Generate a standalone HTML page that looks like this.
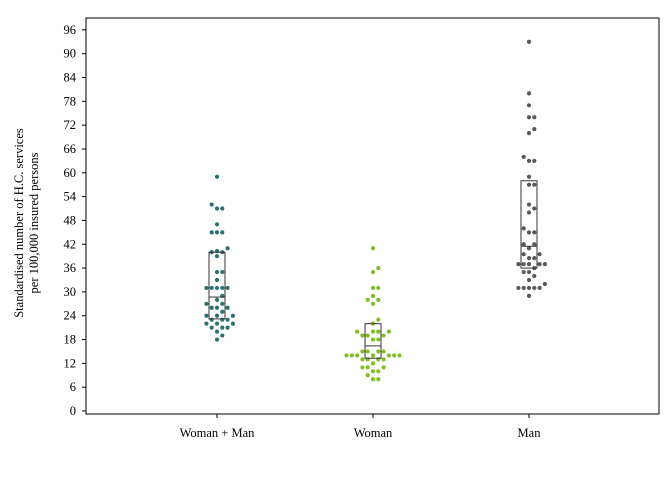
<!DOCTYPE html>
<html><head><meta charset="utf-8"><style>
body{margin:0;background:#fff}
svg text{font-family:"Liberation Serif",serif;font-size:12.5px;fill:#000}
</style></head><body>
<svg width="672" height="480">
<g id="g"></g>
</svg>
<script>
const categories=["Woman + Man","Woman","Man"];
const womanMan=[59,52,51,51,47,45,45,45,41,40.3,40,40,39,35,35,33,31,31,31,31,31,29,28,27,27,26,26,26,25,24,24,24,23,23,23,22,22,22,21,21,21,20,19,18];
const woman=[41,36,35,31,31,29,28,28,27,23,22,20,20,20,20,19,19,19,18,18,15,15,15,15,14,14,14,14,14,14,14,13,13,13,13,12,11,11,11,10,10,9,8,8];
const man=[93,80,77,74,74,71,70,64,63,63,59,57,57,52,51,50,46,45,45,42,42,41,39.5,39.5,38.5,38.5,37,37,37,37,37,36,35,35,34,33,32,31,31,31,31,31,29];
const boxQ1=[23.2,13.3,36];
const boxMed=[28.7,16.4,41.5];
const boxQ3=[40,22,58];
const yTicks=[0,6,12,18,24,30,36,42,48,54,60,66,72,78,84,90,96];
const colors=["#2a7272","#80bf22","#585858"];
const series=[womanMan,woman,man];
const NS="http://www.w3.org/2000/svg";
const g=document.getElementById('g');
const y=v=>411-v*3.97;
const xc=[217,373,529];
function mk(t,a,p){const e=document.createElementNS(NS,t);for(const k in a)e.setAttribute(k,a[k]);(p||g).appendChild(e);return e;}
const fr=mk('rect',{x:86,y:18,width:573,height:396,fill:'none',stroke:'#000','stroke-width':1});

yTicks.forEach(t=>{
 const l=mk('line',{x1:82,x2:86,y1:y(t),y2:y(t),stroke:'#000'});
 
 const tx=mk('text',{x:76,y:y(t)+4,'text-anchor':'end'});tx.textContent=t;
 
});
categories.forEach((c,i)=>{
 const l=mk('line',{x1:xc[i],x2:xc[i],y1:414,y2:418,stroke:'#000'});
 
 const tx=mk('text',{x:xc[i],y:437,'text-anchor':'middle'});tx.textContent=c;
 
});
const yt=mk('text',{transform:'translate(23,223) rotate(-90)','text-anchor':'middle'});

const t1=mk('tspan',{x:0,y:0},yt);t1.textContent='Standardised number of H.C. services';
const t2=mk('tspan',{x:0,y:15},yt);t2.textContent='per 100,000 insured persons';
series.forEach((vals,i)=>{
 const placed=[];
 const sorted=vals.slice().sort((a,b)=>a-b);
 sorted.forEach(v=>{
  const py=y(v);let off=0;
  for(let k=0;k<40;k++){
   const cand=k===0?0:(k%2?1:-1)*Math.ceil(k/2)*5.3;
   if(placed.every(p=>Math.hypot(p[0]-cand,p[1]-py)>=4.8)){off=cand;break;}
  }
  placed.push([off,py]);
  const c=mk('circle',{cx:xc[i]+off,cy:py,r:2.1,fill:colors[i]});
  
 });
 const b=mk('rect',{x:xc[i]-8,y:y(boxQ3[i]),width:16,height:y(boxQ1[i])-y(boxQ3[i]),fill:'none',stroke:'#333','stroke-width':1});
 
 const m=mk('line',{x1:xc[i]-8,x2:xc[i]+8,y1:y(boxMed[i]),y2:y(boxMed[i]),stroke:'#333'});
 
});
</script>
</body></html>
